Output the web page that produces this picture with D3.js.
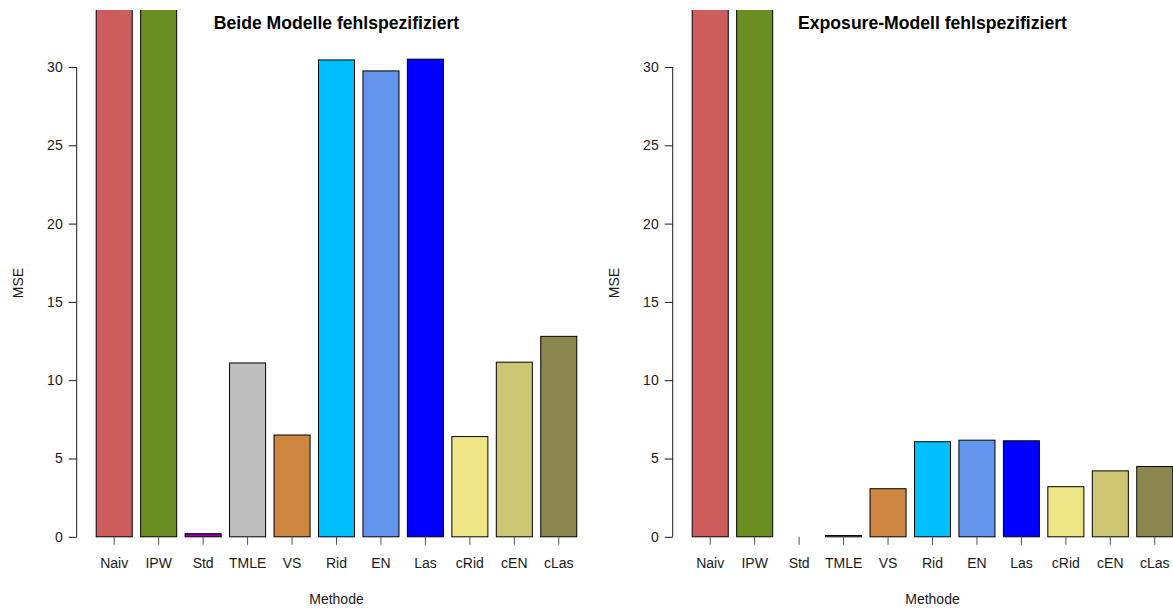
<!DOCTYPE html>
<html>
<head>
<meta charset="utf-8">
<script src="https://cdn.jsdelivr.net/npm/d3@7"></script>
<style>
  html, body { margin: 0; padding: 0; background: #fff; }
  svg { display: block; font-family: "Liberation Sans", Arial, sans-serif; }
</style>
</head>
<body>
<svg id="chart" width="1173" height="610"></svg>
<script>
// Methods compared in both simulation settings
const methods = ["Naiv", "IPW", "Std", "TMLE", "VS", "Rid", "EN", "Las", "cRid", "cEN", "cLas"];

// Bar fill per method
const methodColors = ["#CD5C5C", "#6B8E23", "#8B00B0", "#BEBEBE", "#CD853F", "#00BFFF",
                      "#6495ED", "#0000FF", "#EEE685", "#CDC673", "#8B864E"];

// MSE, setting 1: outcome and exposure model both misspecified
// (Naiv and IPW exceed the plotted range)
const mseBoth = [41.0, 38.0, 0.2, 11.1, 6.5, 30.45, 29.75, 30.5, 6.4, 11.15, 12.8];

// MSE, setting 2: only the exposure model misspecified
const mseExposure = [41.0, 38.0, 0.0, 0.08, 3.07, 6.07, 6.17, 6.13, 3.2, 4.21, 4.49];

const yTicks = [0, 5, 10, 15, 20, 25, 30];

const panelTitles = ["Beide Modelle fehlspezifiziert", "Exposure-Modell fehlspezifiziert"];
const xTitle = "Methode";
const yTitle = "MSE";

const svg = d3.select("#chart");
const ink = "#1a1a1a";

function drawPanel(offset, values, title, idx) {
  const g = svg.append("g").attr("transform", `translate(${offset},0)`);

  const x = d3.scaleBand()
    .domain(methods)
    .range([95.7, 577.3])
    .paddingInner(1 / 6)
    .paddingOuter(0);

  const y = d3.scaleLinear().domain([0, 30]).range([536.8, 67]);

  // plotting region clip (bars run off the top)
  const clipId = "clip" + idx;
  g.append("clipPath").attr("id", clipId)
    .append("rect").attr("x", 80).attr("y", 10).attr("width", 520).attr("height", 548);

  g.append("g").attr("clip-path", `url(#${clipId})`)
    .selectAll("rect")
    .data(methods)
    .join("rect")
    .attr("x", d => x(d) + 0.5)
    .attr("y", (d, i) => y(values[i]))
    .attr("width", x.bandwidth() - 1)
    .attr("height", (d, i) => y(0) - y(values[i]))
    .attr("fill", (d, i) => methodColors[i])
    .attr("stroke", "#000")
    .attr("stroke-width", 1)
    .attr("stroke-opacity", (d, i) => values[i] > 0.001 ? 1 : 0);

  // y axis
  const yAxis = g.append("g")
    .attr("transform", "translate(76.7,0)")
    .call(d3.axisLeft(y).tickValues(yTicks).tickSize(8).tickPadding(6).tickFormat(d3.format("d")));
  yAxis.select(".domain").attr("stroke", ink).attr("d", `M0,${y(0)}V${y(30)}`);
  yAxis.selectAll(".tick line").attr("stroke", ink);
  yAxis.selectAll(".tick text").attr("fill", ink).style("font-size", "14px")
    .style("font-family", "Liberation Sans, Arial, sans-serif");

  // x axis (ticks and labels only)
  const xAxis = g.append("g")
    .attr("transform", `translate(0,${y(0)})`)
    .call(d3.axisBottom(x).tickSize(8).tickPadding(13));
  xAxis.select(".domain").remove();
  xAxis.selectAll(".tick line").attr("stroke", "#555");
  xAxis.selectAll(".tick text").attr("fill", ink).style("font-size", "14px")
    .style("font-family", "Liberation Sans, Arial, sans-serif");

  // title
  g.append("text")
    .attr("x", 336.5).attr("y", 29)
    .attr("text-anchor", "middle")
    .style("font-size", "17.6px").style("font-weight", "bold")
    .attr("fill", "#000")
    .text(title);

  // axis titles
  g.append("text")
    .attr("x", 336.5).attr("y", 604)
    .attr("text-anchor", "middle")
    .style("font-size", "14px").attr("fill", ink)
    .text(xTitle);

  g.append("text")
    .attr("transform", "translate(22.5,283) rotate(-90)")
    .attr("text-anchor", "middle")
    .style("font-size", "14px").attr("fill", ink)
    .text(yTitle);
}

drawPanel(0, mseBoth, panelTitles[0], 0);
drawPanel(596, mseExposure, panelTitles[1], 1);
</script>
</body>
</html>
